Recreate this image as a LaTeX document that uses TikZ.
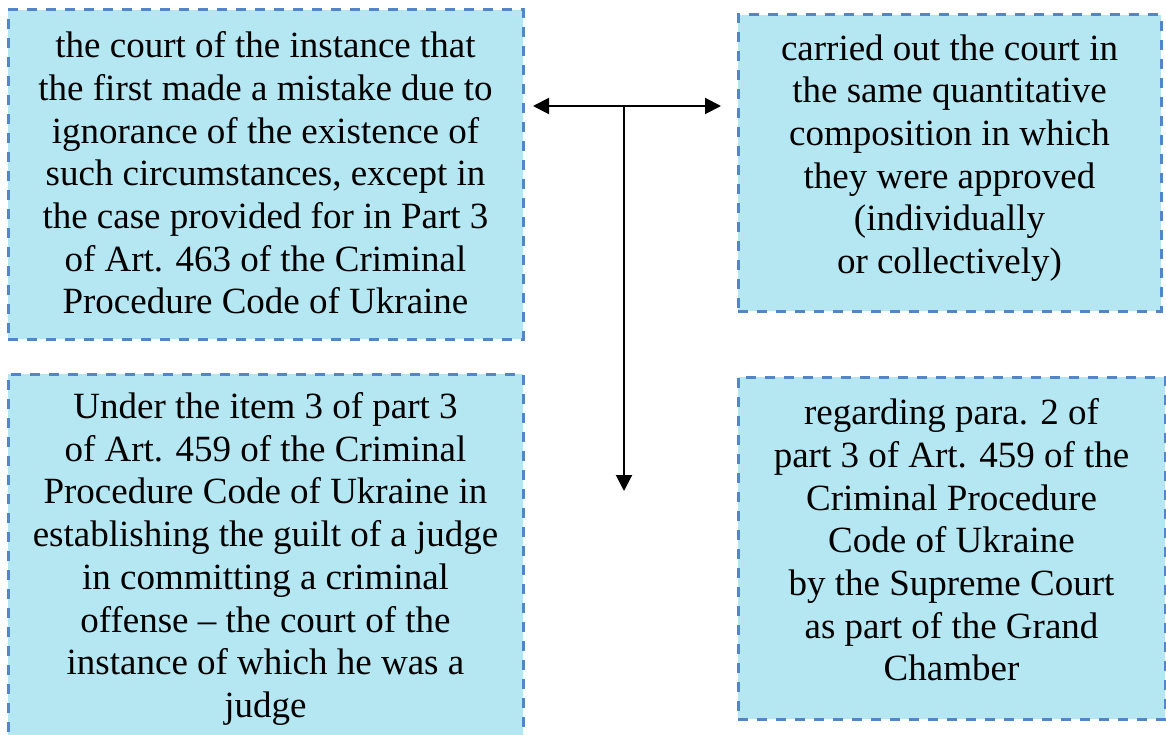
\documentclass[tikz,border=0pt]{standalone}
\usepackage{fontspec}
\setmainfont{Liberation Serif}
\usetikzlibrary{arrows.meta}
\definecolor{boxfill}{RGB}{181,231,243}
\definecolor{boxline}{RGB}{84,133,199}
\begin{document}
\begin{tikzpicture}[x=1pt,y=-1pt,
  panel/.style={draw=boxline, fill=boxfill, line width=3pt,
    dash pattern=on 10pt off 9pt, rectangle, inner sep=0pt},
  paneltext/.style={align=center, inner sep=0pt,
    font=\fontsize{37}{42.7}\selectfont},
  link/.style={line width=2pt, black},
  tipend/.style={-{Triangle[length=16pt,width=16pt]}},
  tipboth/.style={{Triangle[length=16pt,width=16pt]}-{Triangle[length=16pt,width=16pt]}}]
\useasboundingbox (0,0) rectangle (1166,735);
\clip (0,0) rectangle (1166,735);

% boxes
\node[panel, minimum width=515pt, minimum height=329pt] (b1) at (265.5,174.5) {};
\node[panel, minimum width=423pt, minimum height=296pt] (b2) at (949.5,163) {};
\node[panel, minimum width=515pt, minimum height=370pt] (b3) at (265.5,559) {};
\node[panel, minimum width=427pt, minimum height=342pt] (b4) at (951.5,548) {};

% texts
\node[paneltext] (t1) at (265.5,173) {the court of the instance that\\the first made a mistake due to\\ignorance of the existence of\\such circumstances, except in\\the case provided for in Part 3\\of Art. 463 of the Criminal\\Procedure Code of Ukraine};
\node[paneltext] (t2) at (949.5,158) {carried out the court in\\the same quantitative\\composition in which\\they were approved\\(individually\\or collectively)};
\node[paneltext] (t3) at (265.5,559) {Under the item 3 of part 3\\of Art. 459 of the Criminal\\Procedure Code of Ukraine in\\establishing the guilt of a judge\\in committing a criminal\\offense – the court of the\\instance of which he was a\\judge};
\node[paneltext] (t4) at (951.5,540) {regarding para. 2 of\\part 3 of Art. 459 of the\\Criminal Procedure\\Code of Ukraine\\by the Supreme Court\\as part of the Grand\\Chamber};

% connectors
\coordinate (jn) at (624,106);
\coordinate (lt) at (533,106);
\coordinate (rt) at (721,106);
\coordinate (dn) at (624,491);
\draw[link, tipboth] (lt) -- (rt);
\draw[link, tipend] (jn) -- (dn);
\end{tikzpicture}
\end{document}
